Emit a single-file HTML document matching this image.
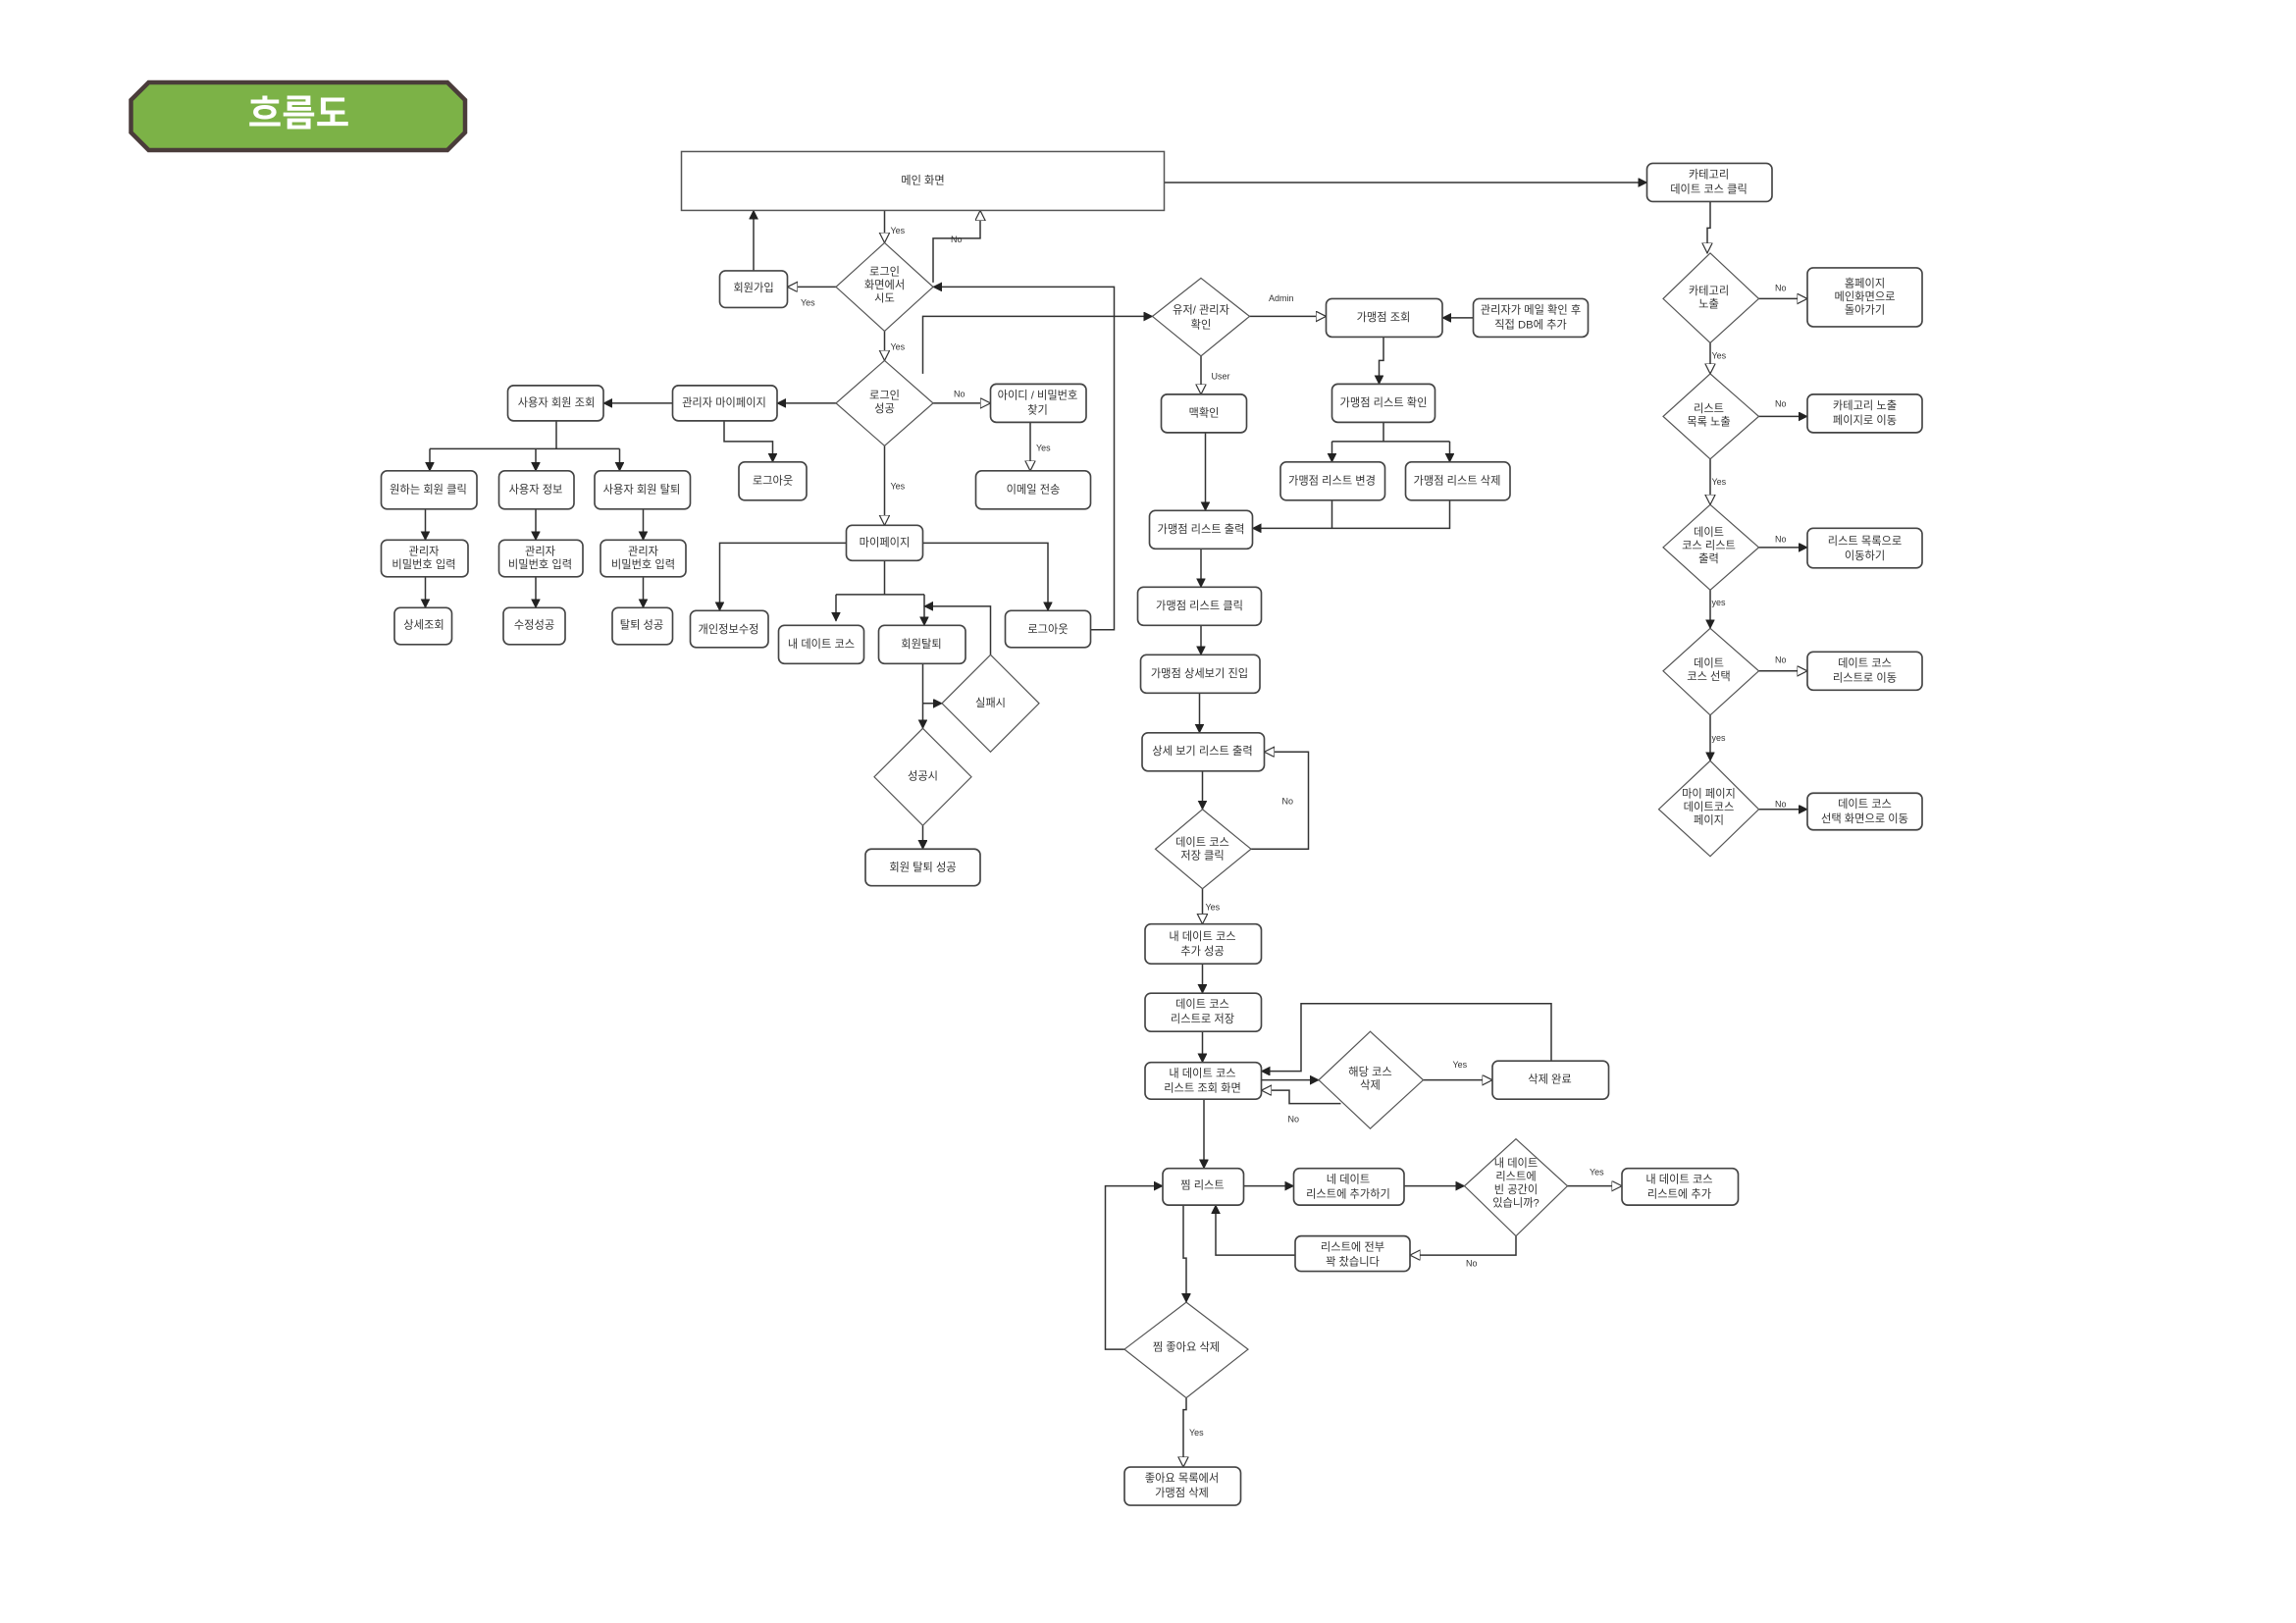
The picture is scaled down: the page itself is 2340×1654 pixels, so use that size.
<!DOCTYPE html>
<html><head><meta charset="utf-8"><style>
html,body{margin:0;padding:0;background:#fff;}
svg{display:block;}
text{font-family:"Liberation Sans","Noto Sans CJK KR",sans-serif;fill:#333;font-size:7.5px;text-anchor:middle;dominant-baseline:middle;}
.l{font-size:6px;text-anchor:start;}
rect.b{fill:#fff;stroke:#444;stroke-width:1.1;}
polygon.d{fill:#fff;stroke:#555;stroke-width:0.8;}
path,line{fill:none;stroke:#333;stroke-width:1;}
</style></head><body>
<svg width="2340" height="1654" viewBox="0 0 1560 1103" preserveAspectRatio="none" xmlns="http://www.w3.org/2000/svg">
<defs>
<marker id="f" markerWidth="8" markerHeight="8" refX="6" refY="3" orient="auto" markerUnits="userSpaceOnUse"><path d="M0,0 L6,3 L0,6 z" style="fill:#222;stroke:#222;stroke-width:0.5"/></marker>
<marker id="o" markerWidth="9" markerHeight="9" refX="7" refY="3.5" orient="auto" markerUnits="userSpaceOnUse"><path d="M0,0 L7,3.5 L0,7 z" style="fill:#fff;stroke:#333;stroke-width:0.8"/></marker>
</defs>

<!-- title -->
<polygon points="101,56 304,56 316,68 316,90 304,102 101,102 89,90 89,68" style="fill:#7cb247;stroke:#4a3c3a;stroke-width:3"/>
<text x="203" y="79" style="fill:#fff;font-size:25px;font-weight:bold">흐름도</text>

<!-- connectors -->
<g>
<path d="M791,124 H1119" marker-end="url(#f)"/>
<path d="M601,143 V165" marker-end="url(#o)"/>
<path d="M634,192 V162 H666 V143" marker-end="url(#o)"/>
<path d="M741,428 H757 V195 H634" marker-end="url(#f)"/>
<path d="M568,195 H535" marker-end="url(#o)"/>
<path d="M512,184 V143" marker-end="url(#f)"/>
<path d="M601,225 V245" marker-end="url(#o)"/>
<path d="M627,254 V215 H783" marker-end="url(#f)"/>
<path d="M634,274 H673" marker-end="url(#o)"/>
<path d="M700,287 V320" marker-end="url(#o)"/>
<path d="M568,274 H528" marker-end="url(#f)"/>
<path d="M457,274 H410" marker-end="url(#f)"/>
<path d="M492,286 V300 H525 V314" marker-end="url(#f)"/>
<path d="M378,286 V305"/>
<path d="M292,305 H421"/>
<path d="M292,305 V320" marker-end="url(#f)"/>
<path d="M364,305 V320" marker-end="url(#f)"/>
<path d="M421,305 V320" marker-end="url(#f)"/>
<path d="M289,346 V367" marker-end="url(#f)"/>
<path d="M364,346 V367" marker-end="url(#f)"/>
<path d="M437,346 V367" marker-end="url(#f)"/>
<path d="M289,392 V413" marker-end="url(#f)"/>
<path d="M364,392 V413" marker-end="url(#f)"/>
<path d="M437,392 V413" marker-end="url(#f)"/>
<path d="M601,303 V357" marker-end="url(#o)"/>
<path d="M575,369 H489 V415" marker-end="url(#f)"/>
<path d="M627,369 H712 V415" marker-end="url(#f)"/>
<path d="M601,381 V404"/>
<path d="M568,404 H628"/>
<path d="M568,404 V422" marker-end="url(#f)"/>
<path d="M628,404 V425" marker-end="url(#f)"/>
<path d="M627,451 V495" marker-end="url(#f)"/>
<path d="M627,478 H640" marker-end="url(#f)"/>
<path d="M673,445 V412 H628" marker-end="url(#f)"/>
<path d="M627,561 V577" marker-end="url(#f)"/>

<path d="M849,215 H901" marker-end="url(#o)"/>
<path d="M1001,216 H980" marker-end="url(#f)"/>
<path d="M940,229 V245 H937 V261" marker-end="url(#f)"/>
<path d="M940,287 V300"/>
<path d="M905,300 H985"/>
<path d="M905,300 V314" marker-end="url(#f)"/>
<path d="M985,300 V314" marker-end="url(#f)"/>
<path d="M905,340 V359"/>
<path d="M985,340 V359 H851" marker-end="url(#f)"/>
<path d="M816,242 V268" marker-end="url(#o)"/>
<path d="M819,294 V347" marker-end="url(#f)"/>
<path d="M816,373 V399" marker-end="url(#f)"/>
<path d="M816,425 V445" marker-end="url(#f)"/>
<path d="M815,471 V498" marker-end="url(#f)"/>
<path d="M817,524 V550" marker-end="url(#f)"/>
<path d="M850,577 H889 V511 H859" marker-end="url(#o)"/>
<path d="M817,604 V628" marker-end="url(#o)"/>
<path d="M817,655 V675" marker-end="url(#f)"/>
<path d="M817,701 V722" marker-end="url(#f)"/>
<path d="M857,734 H896" marker-end="url(#f)"/>
<path d="M967,734 H1014" marker-end="url(#o)"/>
<path d="M1054,721 V682 H884 V728 H857" marker-end="url(#f)"/>
<path d="M911,750 H876 V741 H857" marker-end="url(#o)"/>
<path d="M818,747 V794" marker-end="url(#f)"/>
<path d="M845,806 H879" marker-end="url(#f)"/>
<path d="M954,806 H995" marker-end="url(#f)"/>
<path d="M1065,806 H1102" marker-end="url(#o)"/>
<path d="M1030,840 V853 H958" marker-end="url(#o)"/>
<path d="M880,853 H826 V819" marker-end="url(#f)"/>
<path d="M804,819 V855 H806 V885" marker-end="url(#f)"/>
<path d="M764,917 H751 V806 H790" marker-end="url(#f)"/>
<path d="M806,950 V958 H804 V997" marker-end="url(#o)"/>

<path d="M1162,137 V155 H1160 V172" marker-end="url(#o)"/>
<path d="M1195,203 H1228" marker-end="url(#o)"/>
<path d="M1162,233 V254" marker-end="url(#o)"/>
<path d="M1195,283 H1228" marker-end="url(#f)"/>
<path d="M1162,312 V343" marker-end="url(#o)"/>
<path d="M1195,372 H1228" marker-end="url(#f)"/>
<path d="M1162,401 V427" marker-end="url(#f)"/>
<path d="M1195,456 H1228" marker-end="url(#o)"/>
<path d="M1162,486 V517" marker-end="url(#f)"/>
<path d="M1195,550 H1228" marker-end="url(#f)"/>
</g>

<!-- main screen -->
<rect x="463" y="103" width="328" height="40" style="fill:#fff;stroke:#555;stroke-width:1"/>
<text x="627" y="123">메인 화면</text>

<!-- boxes -->
<g>
<rect class="b" x="489" y="184" width="46" height="25" rx="4"/><text x="512" y="196">회원가입</text>
<rect class="b" x="673" y="261" width="65" height="26" rx="4"/><text x="705" y="269">아이디 / 비밀번호</text><text x="705" y="279">찾기</text>
<rect class="b" x="663" y="320" width="78" height="26" rx="4"/><text x="702" y="333">이메일 전송</text>
<rect class="b" x="457" y="262" width="71" height="24" rx="4"/><text x="492" y="274">관리자 마이페이지</text>
<rect class="b" x="345" y="262" width="65" height="24" rx="4"/><text x="378" y="274">사용자 회원 조회</text>
<rect class="b" x="502" y="314" width="46" height="26" rx="4"/><text x="525" y="327">로그아웃</text>
<rect class="b" x="259" y="320" width="65" height="26" rx="4"/><text x="291" y="333">원하는 회원 클릭</text>
<rect class="b" x="339" y="320" width="51" height="26" rx="4"/><text x="364" y="333">사용자 정보</text>
<rect class="b" x="404" y="320" width="65" height="26" rx="4"/><text x="436" y="333">사용자 회원 탈퇴</text>
<rect class="b" x="259" y="367" width="59" height="25" rx="4"/><text x="288" y="375">관리자</text><text x="288" y="384">비밀번호 입력</text>
<rect class="b" x="339" y="367" width="57" height="25" rx="4"/><text x="367" y="375">관리자</text><text x="367" y="384">비밀번호 입력</text>
<rect class="b" x="408" y="367" width="58" height="25" rx="4"/><text x="437" y="375">관리자</text><text x="437" y="384">비밀번호 입력</text>
<rect class="b" x="268" y="413" width="39" height="25" rx="4"/><text x="288" y="425">상세조회</text>
<rect class="b" x="342" y="413" width="42" height="25" rx="4"/><text x="363" y="425">수정성공</text>
<rect class="b" x="416" y="413" width="41" height="25" rx="4"/><text x="436" y="425">탈퇴 성공</text>
<rect class="b" x="575" y="357" width="52" height="24" rx="4"/><text x="601" y="369">마이페이지</text>
<rect class="b" x="469" y="415" width="53" height="25" rx="4"/><text x="495" y="428">개인정보수정</text>
<rect class="b" x="529" y="425" width="58" height="26" rx="4"/><text x="558" y="438">내 데이트 코스</text>
<rect class="b" x="597" y="425" width="59" height="26" rx="4"/><text x="626" y="438">회원탈퇴</text>
<rect class="b" x="683" y="415" width="58" height="25" rx="4"/><text x="712" y="428">로그아웃</text>
<rect class="b" x="588" y="577" width="78" height="25" rx="4"/><text x="627" y="590">회원 탈퇴 성공</text>

<rect class="b" x="901" y="203" width="79" height="26" rx="4"/><text x="940" y="216">가맹점 조회</text>
<rect class="b" x="1001" y="203" width="78" height="26" rx="4"/><text x="1040" y="211">관리자가 메일 확인 후</text><text x="1040" y="221">직접 DB에 추가</text>
<rect class="b" x="905" y="261" width="70" height="26" rx="4"/><text x="940" y="274">가맹점 리스트 확인</text>
<rect class="b" x="870" y="314" width="71" height="26" rx="4"/><text x="905" y="327">가맹점 리스트 변경</text>
<rect class="b" x="955" y="314" width="71" height="26" rx="4"/><text x="990" y="327">가맹점 리스트 삭제</text>
<rect class="b" x="789" y="268" width="58" height="26" rx="4"/><text x="818" y="281">맥확인</text>
<rect class="b" x="781" y="347" width="70" height="26" rx="4"/><text x="816" y="360">가맹점 리스트 출력</text>
<rect class="b" x="773" y="399" width="84" height="26" rx="4"/><text x="815" y="412">가맹점 리스트 클릭</text>
<rect class="b" x="775" y="445" width="81" height="26" rx="4"/><text x="815" y="458">가맹점 상세보기 진입</text>
<rect class="b" x="776" y="498" width="83" height="26" rx="4"/><text x="817" y="511">상세 보기 리스트 출력</text>
<rect class="b" x="778" y="628" width="79" height="27" rx="4"/><text x="817" y="637">내 데이트 코스</text><text x="817" y="647">추가 성공</text>
<rect class="b" x="778" y="675" width="79" height="26" rx="4"/><text x="817" y="683">데이트 코스</text><text x="817" y="693">리스트로 저장</text>
<rect class="b" x="778" y="722" width="79" height="25" rx="4"/><text x="817" y="730">내 데이트 코스</text><text x="817" y="740">리스트 조회 화면</text>
<rect class="b" x="1014" y="721" width="79" height="26" rx="4"/><text x="1053" y="734">삭제 완료</text>
<rect class="b" x="790" y="794" width="55" height="25" rx="4"/><text x="817" y="806">찜 리스트</text>
<rect class="b" x="879" y="794" width="75" height="25" rx="4"/><text x="916" y="802">네 데이트</text><text x="916" y="812">리스트에 추가하기</text>
<rect class="b" x="1102" y="794" width="79" height="25" rx="4"/><text x="1141" y="802">내 데이트 코스</text><text x="1141" y="812">리스트에 추가</text>
<rect class="b" x="880" y="840" width="78" height="24" rx="4"/><text x="919" y="848">리스트에 전부</text><text x="919" y="858">꽉 찼습니다</text>
<rect class="b" x="764" y="997" width="79" height="26" rx="4"/><text x="803" y="1005">좋아요 목록에서</text><text x="803" y="1015">가맹점 삭제</text>

<rect class="b" x="1119" y="111" width="85" height="26" rx="4"/><text x="1161" y="119">카테고리</text><text x="1161" y="129">데이트 코스 클릭</text>
<rect class="b" x="1228" y="182" width="78" height="40" rx="4"/><text x="1267" y="193">홈페이지</text><text x="1267" y="202">메인화면으로</text><text x="1267" y="211">돌아가기</text>
<rect class="b" x="1228" y="268" width="78" height="26" rx="4"/><text x="1267" y="276">카테고리 노출</text><text x="1267" y="286">페이지로 이동</text>
<rect class="b" x="1228" y="359" width="78" height="27" rx="4"/><text x="1267" y="368">리스트 목록으로</text><text x="1267" y="378">이동하기</text>
<rect class="b" x="1228" y="443" width="78" height="26" rx="4"/><text x="1267" y="451">데이트 코스</text><text x="1267" y="461">리스트로 이동</text>
<rect class="b" x="1228" y="539" width="78" height="25" rx="4"/><text x="1267" y="547">데이트 코스</text><text x="1267" y="557">선택 화면으로 이동</text>
</g>

<!-- diamonds -->
<g>
<polygon class="d" points="601,165 634,195 601,225 568,195"/><text x="601" y="185">로그인</text><text x="601" y="194">화면에서</text><text x="601" y="203">시도</text>
<polygon class="d" points="601,245 634,274 601,303 568,274"/><text x="601" y="269">로그인</text><text x="601" y="278">성공</text>
<polygon class="d" points="673,445 706,478 673,511 640,478"/><text x="673" y="478">실패시</text>
<polygon class="d" points="627,495 660,528 627,561 594,528"/><text x="627" y="528">성공시</text>
<polygon class="d" points="816,189 849,215 816,242 783,215"/><text x="816" y="211">유저/ 관리자</text><text x="816" y="221">확인</text>
<polygon class="d" points="817,550 850,577 817,604 785,577"/><text x="817" y="573">데이트 코스</text><text x="817" y="582">저장 클릭</text>
<polygon class="d" points="931,701 967,734 931,767 896,734"/><text x="931" y="729">해당 코스</text><text x="931" y="738">삭제</text>
<polygon class="d" points="1030,774 1065,806 1030,840 995,806"/><text x="1030" y="791">내 데이트</text><text x="1030" y="800">리스트에</text><text x="1030" y="809">빈 공간이</text><text x="1030" y="818">있습니까?</text>
<polygon class="d" points="806,885 848,917 806,950 764,917"/><text x="806" y="916">찜 좋아요 삭제</text>
<polygon class="d" points="1162,172 1195,203 1162,233 1130,203"/><text x="1161" y="198">카테고리</text><text x="1161" y="207">노출</text>
<polygon class="d" points="1162,254 1195,283 1162,312 1130,283"/><text x="1161" y="278">리스트</text><text x="1161" y="287">목록 노출</text>
<polygon class="d" points="1162,343 1195,372 1162,401 1130,372"/><text x="1161" y="362">데이트</text><text x="1161" y="371">코스 리스트</text><text x="1161" y="380">출력</text>
<polygon class="d" points="1162,427 1195,456 1162,486 1130,456"/><text x="1161" y="451">데이트</text><text x="1161" y="460">코스 선택</text>
<polygon class="d" points="1162,517 1195,550 1162,582 1127,550"/><text x="1161" y="540">마이 페이지</text><text x="1161" y="549">데이트코스</text><text x="1161" y="558">페이지</text>
</g>

<!-- labels -->
<g>
<text class="l" x="605" y="157">Yes</text>
<text class="l" x="646" y="163">No</text>
<text class="l" x="544" y="206">Yes</text>
<text class="l" x="605" y="236">Yes</text>
<text class="l" x="648" y="268">No</text>
<text class="l" x="704" y="305">Yes</text>
<text class="l" x="605" y="331">Yes</text>
<text class="l" x="862" y="203">Admin</text>
<text class="l" x="823" y="256">User</text>
<text class="l" x="871" y="545">No</text>
<text class="l" x="819" y="617">Yes</text>
<text class="l" x="987" y="724">Yes</text>
<text class="l" x="875" y="761">No</text>
<text class="l" x="1080" y="797">Yes</text>
<text class="l" x="996" y="859">No</text>
<text class="l" x="808" y="974">Yes</text>
<text class="l" x="1206" y="196">No</text>
<text class="l" x="1163" y="242">Yes</text>
<text class="l" x="1206" y="275">No</text>
<text class="l" x="1163" y="328">Yes</text>
<text class="l" x="1206" y="367">No</text>
<text class="l" x="1163" y="410">yes</text>
<text class="l" x="1206" y="449">No</text>
<text class="l" x="1163" y="502">yes</text>
<text class="l" x="1206" y="547">No</text>
</g>
</svg>
</body></html>
